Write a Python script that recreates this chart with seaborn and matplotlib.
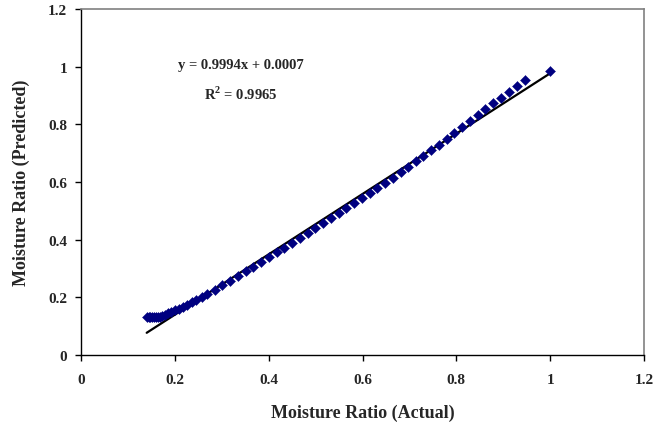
import matplotlib
matplotlib.use("Agg")
import matplotlib.pyplot as plt
import seaborn as sns
import pandas as pd

# Data
mr_actual = [0.140, 0.144, 0.148, 0.152, 0.156, 0.160, 0.164, 0.168, 0.172,
             0.178, 0.185, 0.192, 0.200, 0.208, 0.217, 0.226, 0.236, 0.246,
             0.257, 0.269, 0.285, 0.301, 0.318, 0.334, 0.351, 0.367, 0.384,
             0.400, 0.417, 0.433, 0.450, 0.466, 0.483, 0.499, 0.516, 0.532,
             0.549, 0.565, 0.582, 0.598, 0.615, 0.631, 0.648, 0.664, 0.681,
             0.697, 0.714, 0.730, 0.747, 0.763, 0.780, 0.796, 0.813, 0.829,
             0.846, 0.862, 0.879, 0.895, 0.912, 0.929, 0.947, 1.000]
mr_predicted = [0.133, 0.132, 0.131, 0.131, 0.131, 0.131, 0.132, 0.133, 0.135,
                0.140, 0.144, 0.149, 0.155, 0.160, 0.167, 0.174, 0.183, 0.191,
                0.201, 0.212, 0.227, 0.242, 0.258, 0.274, 0.291, 0.306, 0.323,
                0.339, 0.356, 0.372, 0.389, 0.406, 0.423, 0.440, 0.457, 0.474,
                0.492, 0.509, 0.527, 0.544, 0.562, 0.579, 0.598, 0.615, 0.634,
                0.652, 0.672, 0.691, 0.711, 0.730, 0.750, 0.770, 0.791, 0.811,
                0.832, 0.852, 0.873, 0.892, 0.913, 0.933, 0.955, 0.985]
trend_x = [0.140, 1.000]
trend_y = [0.077, 0.977]
x_ticks = [0, 0.2, 0.4, 0.6, 0.8, 1, 1.2]
y_ticks = [0, 0.2, 0.4, 0.6, 0.8, 1, 1.2]
x_tick_labels = ["0", "0.2", "0.4", "0.6", "0.8", "1", "1.2"]
y_tick_labels = ["0", "0.2", "0.4", "0.6", "0.8", "1", "1.2"]
equation_text = "y = 0.9994x + 0.0007"
r2_text = "R$^{\\mathregular{2}}$ = 0.9965"
x_title = "Moisture Ratio (Actual)"
y_title = "Moisture Ratio (Predicted)"

sns.set_style("white")
plt.rcParams["font.family"] = ["Liberation Serif", "DejaVu Serif"]
plt.rcParams["font.weight"] = "bold"

df = pd.DataFrame({"actual": mr_actual, "predicted": mr_predicted})
tdf = pd.DataFrame({"x": trend_x, "y": trend_y})

fig = plt.figure(figsize=(6.53, 4.35), dpi=100)
ax = fig.add_axes([81 / 653, 1 - 356 / 435, (644 - 81) / 653, (356 - 10) / 435])

sns.lineplot(data=tdf, x="x", y="y", ax=ax, color="black", linewidth=1.6, zorder=2)
sns.scatterplot(data=df, x="actual", y="predicted", ax=ax, marker="D",
                s=26, color="#000080", edgecolor="#000080", linewidth=0.3, zorder=3)

ax.set_xlim(0, 1.2)
ax.set_ylim(0, 1.2)
ax.set_xticks(x_ticks)
ax.set_xticklabels(x_tick_labels, fontsize=11, fontweight="bold")
ax.set_yticks(y_ticks)
ax.set_yticklabels(y_tick_labels, fontsize=11, fontweight="bold")
ax.tick_params(axis="both", direction="out", length=4, width=1, color="black",
               bottom=True, left=True)
ax.tick_params(axis="x", pad=9)
ax.tick_params(axis="y", pad=6)

for side in ["left", "bottom"]:
    ax.spines[side].set_color("black")
    ax.spines[side].set_linewidth(1.0)
for side in ["top", "right"]:
    ax.spines[side].set_color("#808080")
    ax.spines[side].set_linewidth(1.2)

ax.set_xlabel(x_title, fontsize=13, fontweight="bold", labelpad=13)
ax.set_ylabel(y_title, fontsize=13, fontweight="bold", labelpad=13)

ax.text(0.341, 1.008, equation_text, fontsize=10.5, fontweight="bold",
        ha="center", va="center")
ax.text(0.341, 0.907, r2_text, fontsize=10.5, fontweight="bold",
        ha="center", va="center")

fig.savefig("out.png", dpi=100)
